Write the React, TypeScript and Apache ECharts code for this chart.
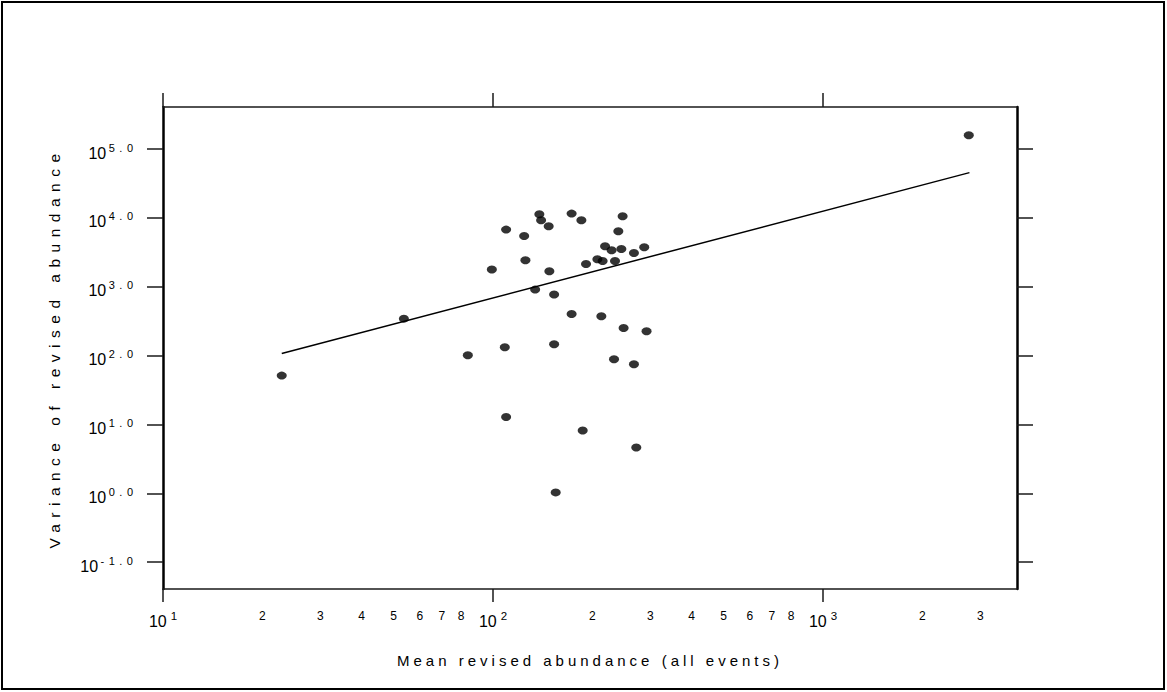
import React, { useEffect, useRef } from "react";
import * as echarts from "echarts";

// ---- data ----
const meanAbundance = [
  22.9, 53.7, 83.9, 99.2, 108.6, 109.6, 109.6, 124.3, 125.4, 134.2,
  138.2, 139.9, 147.5, 148.2, 153.2, 153.2, 154.9, 173.1, 173.1, 185.3,
  187.0, 191.4, 207.2, 213.0, 214.9, 218.6, 228.8, 232.7, 234.3, 239.8,
  244.9, 247.1, 248.8, 267.4, 267.4, 271.8, 287.3, 292.0, 2766,
];
const varianceAbundance = [
  51.2, 344, 101, 1774, 132, 12.8, 6755, 5455, 2420, 908,
  11270, 9220, 7540, 1675, 769, 146, 1.03, 11530, 402, 9220,
  8.14, 2138, 2500, 372, 2364, 3865, 3380, 88.3, 2364, 6380,
  3530, 10540, 252, 3090, 74.7, 4.61, 3736, 225, 158100,
];
const fitMean = [22.9, 2779];
const fitVariance = [106.9, 45400];

const xTickValues = [
  10, 20, 30, 40, 50, 60, 70, 80, 100, 200, 300, 400, 500, 600, 700, 800, 1000, 2000, 3000,
];
const xTickLabels = [
  "10^1", "2", "3", "4", "5", "6", "7", "8", "10^2", "2", "3", "4", "5", "6", "7", "8", "10^3", "2", "3",
];
const xMajorTicks = [10, 100, 1000];
const yTickValues = [0.1, 1, 10, 100, 1000, 10000, 100000];
const yTickLabels = ["10^-1.0", "10^0.0", "10^1.0", "10^2.0", "10^3.0", "10^4.0", "10^5.0"];

const xLogMin = 1;
const xLogMax = 3.588;
const yLogMin = -1.39;
const yLogMax = 5.61;

const FONT = "'Liberation Sans', Arial, sans-serif";

function makeFormatter(values: number[], labels: string[]) {
  return (v: number) => {
    const idx = values.findIndex((t) => Math.abs(Math.log10(t) - v) < 1e-6);
    if (idx < 0) return "";
    const lab = labels[idx];
    if (lab.indexOf("^") >= 0) {
      const [b, e] = lab.split("^");
      return `{b|${b}}{${e.length > 3 ? "s4" : "s"}|${e}}`;
    }
    return `{m|${lab}}`;
  };
}

const xRich = {
  b: { fontSize: 16, lineHeight: 22, fontFamily: FONT, color: "#000" },
  s: { fontSize: 11.5, lineHeight: 10, verticalAlign: "top", padding: [0, 0, 0, 4], fontFamily: FONT, color: "#000" },
  m: { fontSize: 12, lineHeight: 14, verticalAlign: "top", fontFamily: FONT, color: "#000" },
};
const yRich = {
  b: { fontSize: 16, lineHeight: 22, fontFamily: FONT, color: "#000" },
  s: { fontSize: 11, lineHeight: 10, verticalAlign: "top", padding: [0, 0, 0, 16], fontFamily: FONT, color: "#000" },
  s4: { fontSize: 11, lineHeight: 10, verticalAlign: "top", padding: [0, 0, 0, 20.5], fontFamily: FONT, color: "#000" },
};

export default function App() {
  const ref = useRef<HTMLDivElement>(null);

  useEffect(() => {
    if (!ref.current) return;
    const chart = echarts.init(ref.current, undefined, { renderer: "svg" });
    const lineC = "#1a1a1a";
    const xMajor = xMajorTicks.map((v) => Math.log10(v));
    const yMajor = yTickValues.map((v) => Math.log10(v));
    chart.setOption({
      animation: false,
      backgroundColor: "#fff",
      graphic: [
        {
          type: "rect",
          shape: { x: 2, y: 2, width: 1162, height: 687 },
          style: { fill: "none", stroke: "#000", lineWidth: 2 },
          silent: true,
        },
      ],
      grid: { left: 163, right: 150, top: 107, bottom: 103 },
      xAxis: [
        {
          type: "value",
          position: "bottom",
          min: xLogMin,
          max: xLogMax,
          splitLine: { show: false },
          axisLine: { show: true, onZero: false, lineStyle: { color: lineC, width: 1.5 } },
          axisTick: {
            show: true,
            inside: false,
            length: 13,
            customValues: xMajor,
            lineStyle: { color: lineC, width: 1.5 },
          },
          axisLabel: {
            show: true,
            margin: 21,
            customValues: xTickValues.map((v) => Math.log10(v)),
            formatter: makeFormatter(xTickValues, xTickLabels),
            rich: xRich,
          },
          name: "Mean revised abundance (all events)",
          nameLocation: "middle",
          nameGap: 64,
          nameTextStyle: { fontSize: 15, fontFamily: FONT, color: "#000" },
        },
        {
          type: "value",
          position: "top",
          min: xLogMin,
          max: xLogMax,
          splitLine: { show: false },
          axisLine: { show: true, onZero: false, lineStyle: { color: lineC, width: 1.5 } },
          axisTick: {
            show: true,
            inside: false,
            length: 14,
            customValues: xMajor,
            lineStyle: { color: lineC, width: 1.5 },
          },
          axisLabel: { show: false },
        },
      ],
      yAxis: [
        {
          type: "value",
          position: "left",
          min: yLogMin,
          max: yLogMax,
          splitLine: { show: false },
          axisLine: { show: true, onZero: false, lineStyle: { color: "#000", width: 2.5 } },
          axisTick: {
            show: true,
            inside: false,
            length: 16,
            customValues: yMajor,
            lineStyle: { color: lineC, width: 1.5 },
          },
          axisLabel: {
            show: true,
            margin: 25.5,
            padding: [8, 0, 0, 0],
            customValues: yMajor,
            formatter: makeFormatter(yTickValues, yTickLabels),
            rich: yRich,
          },
          name: "Variance of revised abundance",
          nameLocation: "middle",
          nameGap: 101,
          nameTextStyle: { fontSize: 15.5, fontFamily: FONT, color: "#000" },
        },
        {
          type: "value",
          position: "right",
          min: yLogMin,
          max: yLogMax,
          splitLine: { show: false },
          axisLine: { show: true, onZero: false, lineStyle: { color: "#000", width: 2.5 } },
          axisTick: {
            show: true,
            inside: false,
            length: 16,
            customValues: yMajor,
            lineStyle: { color: lineC, width: 1.5 },
          },
          axisLabel: { show: false },
        },
      ],
      series: [
        {
          type: "line",
          xAxisIndex: 0,
          yAxisIndex: 0,
          data: fitMean.map((m, i) => [Math.log10(m), Math.log10(fitVariance[i])]),
          showSymbol: false,
          symbol: "none",
          lineStyle: { color: "#000", width: 1.5 },
          silent: true,
        },
        {
          type: "scatter",
          xAxisIndex: 0,
          yAxisIndex: 0,
          data: meanAbundance.map((m, i) => [Math.log10(m), Math.log10(varianceAbundance[i])]),
          symbol: "circle",
          symbolSize: [10, 8],
          itemStyle: { color: "#000" },
        },
      ],
    });
    return () => chart.dispose();
  }, []);

  return (
    <>
      <style>{`
        #chart-root text[style*="15px"] { letter-spacing: 4px; }
        #chart-root text[style*="15.5px"] { letter-spacing: 6.5px; }
        #chart-root text[style*="11px"] { letter-spacing: 4.5px; }
      `}</style>
      <div
        id="chart-root"
        ref={ref}
        style={{ position: "fixed", left: 0, top: 0, width: 1167, height: 692, background: "#fff" }}
      />
    </>
  );
}
